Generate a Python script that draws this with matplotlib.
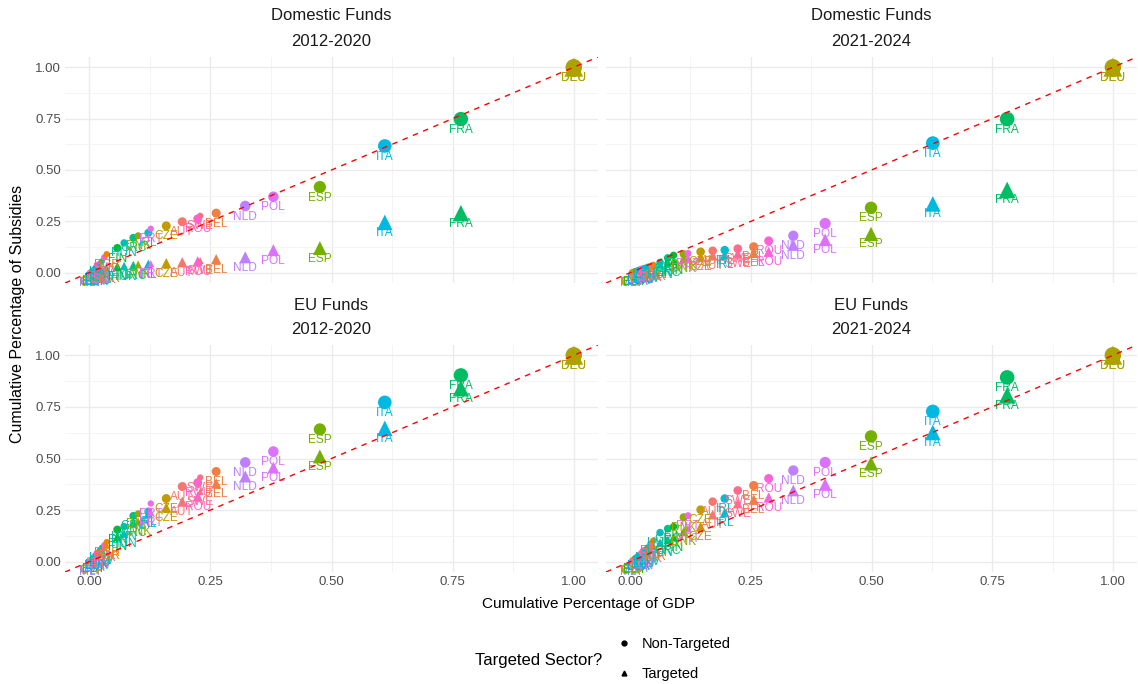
import numpy as np
import matplotlib
matplotlib.use("Agg")
import matplotlib.pyplot as plt
from matplotlib.lines import Line2D

plt.rcParams['font.family'] = ['Liberation Sans', 'DejaVu Sans']

# all member states, alphabetical (factor levels for the colour scale)
levels = ['AUT', 'BEL', 'BGR', 'CYP', 'CZE', 'DEU', 'DNK', 'ESP', 'EST', 'FIN',
          'FRA', 'GRC', 'HRV', 'HUN', 'IRL', 'ITA', 'LTU', 'LUX', 'LVA', 'MLT',
          'NLD', 'POL', 'PRT', 'ROU', 'SVK', 'SVN', 'SWE']

# ---- 2012-2020, countries ordered by GDP (smallest first)
cty_1220 = ['MLT', 'CYP', 'EST', 'LVA', 'LUX', 'SVN', 'LTU', 'HRV', 'SVK', 'BGR',
            'FIN', 'HUN', 'GRC', 'DNK', 'IRL', 'PRT', 'CZE', 'AUT', 'ROU', 'SWE',
            'BEL', 'NLD', 'POL', 'ESP', 'ITA', 'FRA', 'DEU']
gdp_1220 = [0.002, 0.005, 0.008, 0.011, 0.014, 0.018, 0.022, 0.026, 0.031, 0.036,
            0.058, 0.072, 0.091, 0.101, 0.122, 0.127, 0.159, 0.192, 0.224, 0.229,
            0.262, 0.322, 0.380, 0.476, 0.610, 0.767, 1.000]
dom_nt_1220 = [0.003, 0.008, 0.013, 0.020, 0.028, 0.036, 0.045, 0.055, 0.075, 0.090,
               0.120, 0.145, 0.170, 0.180, 0.194, 0.214, 0.228, 0.248, 0.262, 0.277,
               0.290, 0.325, 0.370, 0.417, 0.617, 0.748, 1.000]
dom_t_1220 = [0.001, 0.002, 0.004, 0.006, 0.008, 0.010, 0.012, 0.014, 0.017, 0.020,
              0.030, 0.033, 0.036, 0.040, 0.042, 0.044, 0.047, 0.051, 0.056, 0.059,
              0.066, 0.075, 0.110, 0.120, 0.245, 0.290, 1.000]
eu_nt_1220 = [0.004, 0.010, 0.018, 0.028, 0.035, 0.045, 0.056, 0.068, 0.080, 0.095,
              0.155, 0.170, 0.222, 0.232, 0.243, 0.282, 0.306, 0.364, 0.383, 0.408,
              0.437, 0.481, 0.534, 0.641, 0.772, 0.903, 1.000]
eu_t_1220 = [0.003, 0.008, 0.014, 0.022, 0.028, 0.036, 0.046, 0.056, 0.068, 0.080,
             0.121, 0.136, 0.190, 0.194, 0.233, 0.238, 0.262, 0.291, 0.316, 0.340,
             0.379, 0.413, 0.456, 0.510, 0.646, 0.840, 1.000]

# ---- 2021-2024
cty_2124 = ['MLT', 'CYP', 'EST', 'LVA', 'LUX', 'SVN', 'LTU', 'HRV', 'SVK', 'BGR',
            'HUN', 'GRC', 'FIN', 'DNK', 'PRT', 'CZE', 'AUT', 'IRL', 'SWE', 'BEL',
            'ROU', 'NLD', 'POL', 'ESP', 'ITA', 'FRA', 'DEU']
gdp_2124 = [0.003, 0.006, 0.010, 0.014, 0.018, 0.023, 0.029, 0.036, 0.042, 0.048,
            0.062, 0.078, 0.090, 0.111, 0.120, 0.146, 0.171, 0.196, 0.223, 0.256,
            0.287, 0.338, 0.404, 0.499, 0.627, 0.781, 1.000]
dom_nt_2124 = [0.002, 0.005, 0.008, 0.011, 0.015, 0.019, 0.023, 0.028, 0.033, 0.038,
               0.050, 0.072, 0.085, 0.090, 0.094, 0.102, 0.107, 0.110, 0.117, 0.126,
               0.155, 0.180, 0.240, 0.316, 0.631, 0.748, 1.000]
dom_t_2124 = [0.001, 0.003, 0.005, 0.008, 0.011, 0.014, 0.018, 0.022, 0.027, 0.033,
              0.040, 0.050, 0.058, 0.068, 0.072, 0.078, 0.083, 0.088, 0.093, 0.097,
              0.102, 0.135, 0.160, 0.189, 0.335, 0.403, 1.000]
eu_nt_2124 = [0.004, 0.010, 0.017, 0.025, 0.032, 0.042, 0.055, 0.068, 0.087, 0.102,
              0.141, 0.160, 0.170, 0.215, 0.223, 0.252, 0.291, 0.306, 0.345, 0.369,
              0.403, 0.442, 0.481, 0.607, 0.728, 0.893, 1.000]
eu_t_2124 = [0.002, 0.006, 0.011, 0.017, 0.024, 0.031, 0.040, 0.050, 0.062, 0.075,
             0.092, 0.105, 0.118, 0.146, 0.160, 0.170, 0.228, 0.238, 0.282, 0.301,
             0.311, 0.345, 0.374, 0.476, 0.626, 0.806, 1.000]

ticks = [0.0, 0.25, 0.5, 0.75, 1.0]
tick_labels = ['0.00', '0.25', '0.50', '0.75', '1.00']


def hcl(h, c=100, l=65):
    # polar LUV -> sRGB, same as R's grDevices::hcl
    h = np.deg2rad(h)
    U, V = c * np.cos(h), c * np.sin(h)
    Xn, Yn, Zn = 95.047, 100.0, 108.883
    un = 4 * Xn / (Xn + 15 * Yn + 3 * Zn)
    vn = 9 * Yn / (Xn + 15 * Yn + 3 * Zn)
    Y = Yn * ((l + 16) / 116) ** 3
    u = U / (13 * l) + un
    v = V / (13 * l) + vn
    X = 9 * Y * u / (4 * v)
    Z = -X / 3 - 5 * Y + 3 * Y / v
    X, Y, Z = X / 100, Y / 100, Z / 100
    rgb = np.array([3.2404542 * X - 1.5371385 * Y - 0.4985314 * Z,
                    -0.9692660 * X + 1.8760108 * Y + 0.0415560 * Z,
                    0.0556434 * X - 0.2040259 * Y + 1.0572252 * Z])
    rgb = np.where(rgb <= 0.0031308, 12.92 * rgb, 1.055 * np.abs(rgb) ** (1 / 2.4) - 0.055)
    return tuple(np.clip(rgb, 0, 1))


n = len(levels)
palette = {c: hcl(15 + 360 * i / n) for i, c in enumerate(levels)}

W, H = 1138, 684
fig = plt.figure(figsize=(W / 100, H / 100), dpi=100)


def panel(x0, y0, x1, y1):
    return fig.add_axes([x0 / W, 1 - y1 / H, (x1 - x0) / W, (y1 - y0) / H])


def draw(ax, cty, gdp, nt, t, left, bottom):
    gdp = np.array(gdp)
    share = np.diff(np.concatenate([[0], gdp]))
    diam = 4.5 + 12 * np.sqrt(share / share.max())
    s = (diam * 0.72) ** 2
    cols = [palette[c] for c in cty]
    for yv, mk, k in [(nt, 'o', 1.0), (t, '^', 1.3)]:
        ax.scatter(gdp, yv, s=s * k, c=cols, marker=mk, linewidths=0, zorder=3)
        for c, xx, yy in zip(cty, gdp, yv):
            ax.annotate(c, (xx, yy), xytext=(0, -7.6), textcoords='offset points',
                        ha='center', va='center', fontsize=8.6, color=palette[c],
                        zorder=4)
    ax.axline((0, 0), slope=1, color='red', linestyle=(0, (4, 4)), linewidth=1,
              zorder=5)
    ax.set_xlim(-0.05, 1.05)
    ax.set_ylim(-0.05, 1.05)
    ax.set_xticks(ticks)
    ax.set_yticks(ticks)
    ax.set_xticks([0.125, 0.375, 0.625, 0.875], minor=True)
    ax.set_yticks([0.125, 0.375, 0.625, 0.875], minor=True)
    ax.grid(True, which='major', color='#EBEBEB', linewidth=1.0, zorder=0)
    ax.grid(True, which='minor', color='#F3F3F3', linewidth=0.6, zorder=0)
    ax.set_axisbelow(True)
    for sp in ax.spines.values():
        sp.set_visible(False)
    ax.tick_params(which='both', length=0, labelsize=9.5, labelcolor='#4D4D4D', pad=3)
    ax.set_xticklabels(tick_labels if bottom else [])
    ax.set_yticklabels(tick_labels if left else [])


ax1 = panel(65, 57, 598, 283)
ax2 = panel(606, 57, 1137, 283)
ax3 = panel(65, 345, 598, 572)
ax4 = panel(606, 345, 1137, 572)

draw(ax1, cty_1220, gdp_1220, dom_nt_1220, dom_t_1220, True, False)
draw(ax2, cty_2124, gdp_2124, dom_nt_2124, dom_t_2124, False, False)
draw(ax3, cty_1220, gdp_1220, eu_nt_1220, eu_t_1220, True, True)
draw(ax4, cty_2124, gdp_2124, eu_nt_2124, eu_t_2124, False, True)

# facet strips
for cx, cy, fund, per in [(331, 16, 'Domestic Funds', '2012-2020'),
                          (871, 16, 'Domestic Funds', '2021-2024'),
                          (331, 305, 'EU Funds', '2012-2020'),
                          (871, 305, 'EU Funds', '2021-2024')]:
    fig.text(cx / W, 1 - cy / H, fund, ha='center', va='center', fontsize=12,
             color='#1A1A1A')
    fig.text(cx / W, 1 - (cy + 25) / H, per, ha='center', va='center', fontsize=12,
             color='#1A1A1A')

fig.text(589 / W, 1 - 604 / H, 'Cumulative Percentage of GDP', ha='center',
         va='center', fontsize=11)
fig.text(18 / W, 1 - 314 / H, 'Cumulative Percentage of Subsidies', ha='center',
         va='center', rotation=90, fontsize=11.5)

# legend
fig.text(475 / W, 1 - 660 / H, 'Targeted Sector?', ha='left', va='center',
         fontsize=12)
handles = [Line2D([], [], marker='o', color='black', linestyle='', markersize=3.5),
           Line2D([], [], marker='^', color='black', linestyle='', markersize=3.5)]
fig.legend(handles, ['Non-Targeted', 'Targeted'], loc='center left',
           bbox_to_anchor=(604 / W, 1 - 659 / H), frameon=False, fontsize=10.5,
           handlelength=1.0, handletextpad=0.7, labelspacing=1.05)

fig.savefig('out.png', dpi=100, facecolor='white')
